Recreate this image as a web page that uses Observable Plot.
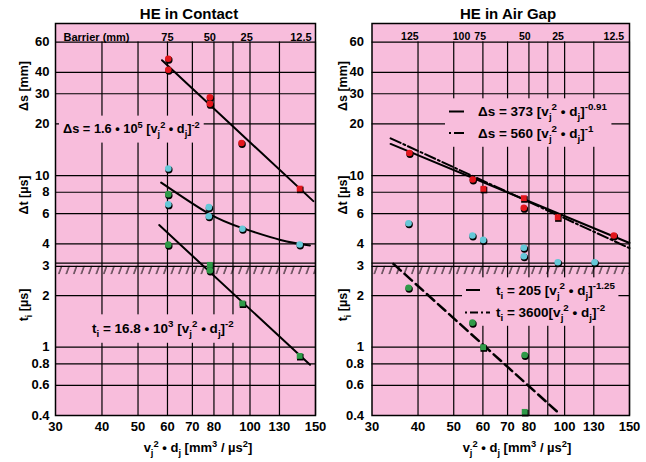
<!DOCTYPE html>
<html><head><meta charset="utf-8">
<script src="https://cdn.jsdelivr.net/npm/d3@7"></script>
<script src="https://cdn.jsdelivr.net/npm/@observablehq/plot@0.6"></script>
<style>
body{margin:0;background:#fff;}
#wrap{position:relative;width:646px;height:462px;overflow:hidden;background:#fff;}
#wrap svg{position:absolute;top:0;}
</style></head><body><div id="wrap"></div>
<script>
// ---------- shared axis data ----------
const xTicks = [30, 40, 50, 60, 70, 80, 100, 120, 150];
const xTickLabels = ["30", "40", "50", "60", "70", "80", "100", "130", "150"];
const xGrid = [40, 50, 60, 70, 80, 90, 100, 120, 150];
const yTicks = [0.4, 0.6, 0.8, 1, 2, 3, 4, 6, 8, 10, 20, 30, 40, 60];
const yTickLabels = ["0.4", "0.6", "0.8", "1", "2", "3", "4", "6", "8", "10", "20", "30", "40", "60"];
const yGrid = [0.6, 0.8, 1, 2, 4, 6, 8, 10, 20, 30, 40, 60];
const bandLines = [2.96, 3.09];
const bandHatch = [{lo: 2.65, hi: 2.96}];

// ---------- HE in Contact ----------
const contactBarrierX = [60, 78, 98, 137];
const contactBarrierLabels = ["75", "50", "25", "12.5"];
const contactDsX = [60.3, 60.3, 78, 78, 94.9, 136];
const contactDsY = [48, 41.4, 28.6, 26.2, 15.5, 8.4];
const contactDsShape = ["circle", "circle", "circle", "circle", "circle", "square"];
const contactDtX = [60.3, 60.3, 77.5, 77.5, 95.4, 136];
const contactDtY = [11, 6.8, 6.55, 5.8, 4.9, 3.97];
const contactTiX = [60.3, 60.3, 78, 78, 95.4, 136];
const contactTiY = [7.8, 3.96, 3.02, 2.8, 1.8, 0.89];
const contactTiShape = ["circle", "circle", "square", "circle", "square", "square"];
const contactDsFitX = [58, 148];
const contactDsFitY = [47, 7.1];
const contactDtCurveX = [57.7, 77.5, 95.4, 120.8, 144.9];
const contactDtCurveY = [9.1, 6.0, 4.94, 4.22, 3.92];
const contactTiFitX = [57, 145];
const contactTiFitY = [5.15, 0.79];

// ---------- HE in Air Gap ----------
const airBarrierX = [38, 52.5, 59, 78, 96, 136];
const airBarrierLabels = ["125", "100", "75", "50", "25", "12.5"];
const airDsX = [37.9, 56.3, 60.2, 77.5, 77.5, 95.8, 136];
const airDsY = [13.55, 9.49, 8.38, 7.39, 6.49, 5.72, 4.48];
const airDsShape = ["circle", "circle", "square", "square", "circle", "square", "circle"];
const airDtX = [37.7, 56.2, 60.1, 77.5, 77.5, 95.8, 120.6];
const airDtY = [5.28, 4.48, 4.22, 3.8, 3.39, 3.13, 3.13];
const airTiX = [37.7, 56.2, 60.1, 77.9, 77.9];
const airTiY = [2.22, 1.39, 1.0, 0.9, 0.42];
const airTiShape = ["circle", "circle", "square", "circle", "square"];
const airDsFit1X = [33.7, 150];
const airDsFit1Y = [15.3, 4.05];
const airDsFit2X = [33.7, 150];
const airDsFit2Y = [16.5, 3.78];
const airTiFitX = [34.3, 95.8];
const airTiFitY = [3.06, 0.418];

// ---------- styling ----------
const PINK = "#f8bddc";
const RED = "#e3161d", CYAN = "#66c8d8", GREEN = "#2f9a48";
const FONT = "'Liberation Sans', Arial, Helvetica, sans-serif";

const pairs = (xs, ys) => xs.map((x, i) => ({x, y: ys[i]}));
const pts = (xs, ys, sh) => xs.map((x, i) => ({x, y: ys[i], s: sh ? sh[i] : "circle"}));
function dots(data, color) {
  return [
    Plot.dot(data, {x: "x", y: "y", symbol: "s", r: 3.7, fill: "black", stroke: "none", dx: 0.6, dy: 1.3}),
    Plot.dot(data, {x: "x", y: "y", symbol: "s", r: 3.3, fill: color, stroke: "none"})
  ];
}
const P = s => [s, "sup"], J = s => [s, "sub"];

function rich(g, x, y, segs, size, opts = {}) {
  const t = g.append("text").attr("x", x).attr("y", y)
    .attr("font-size", size).attr("font-weight", "bold")
    .attr("font-family", FONT).attr("fill", "black")
    .attr("text-anchor", opts.anchor || "start");
  if (opts.rotate) t.attr("transform", `rotate(-90 ${x} ${y})`);
  let cur = 0;
  for (const seg of segs) {
    const [s, k] = Array.isArray(seg) ? seg : [seg, ""];
    const target = k === "sup" ? -0.42 * size : k === "sub" ? 0.28 * size : 0;
    t.append("tspan").attr("dy", target - cur).attr("font-size", k ? size * 0.72 : size).text(s);
    cur = target;
  }
  return t;
}
function boxBehind(g, node, px, py) {
  const b = node.getBBox();
  g.insert("rect", ":first-child").attr("x", b.x - px).attr("y", b.y - py)
    .attr("width", b.width + 2 * px).attr("height", b.height + 2 * py).attr("fill", PINK);
}
function sample(g, x1, x2, y, dash, w) {
  const l = g.append("line").attr("x1", x1).attr("x2", x2).attr("y1", y).attr("y2", y)
    .attr("stroke", "black").attr("stroke-width", w || 2);
  if (dash) l.attr("stroke-dasharray", dash);
}

const wrap = document.getElementById("wrap");

function panel(o) {
  const chart = Plot.plot({
    width: 323, height: 462,
    marginLeft: o.ml, marginRight: o.mr, marginTop: 23, marginBottom: 47,
    style: {fontFamily: FONT, fontSize: "13px", fontWeight: "bold", background: "transparent", color: "black", overflow: "visible"},
    x: {type: "log", domain: [30, 150], axis: null},
    y: {type: "log", domain: [0.4, 77], axis: null},
    marks: [
      Plot.frame({fill: PINK, stroke: "none"}),
      Plot.ruleY(yGrid, {stroke: "black", strokeWidth: 1.2}),
      Plot.ruleX(xGrid, {y1: 0.4, y2: 60, stroke: "black", strokeWidth: 1.2}),
      Plot.rect(bandHatch, {x1: 30, x2: 150, y1: "lo", y2: "hi", fill: "gray"}),
      Plot.ruleY(bandLines, {stroke: "black", strokeWidth: 1.2}),
      Plot.text(yTicks, {y: d => d, text: (d, i) => yTickLabels[i], frameAnchor: "left", textAnchor: "end", dx: -o.tp, fontSize: 13}),
      Plot.text(xTicks, {x: d => d, text: (d, i) => xTickLabels[i], frameAnchor: "bottom", lineAnchor: "top", dy: 6, fontSize: 13}),
      Plot.text(o.barrierX, {x: d => d, text: (d, i) => o.barrierLabels[i], frameAnchor: "top", dy: 9.5, fontSize: o.bfs}),
      ...(o.barrierTitle ? [Plot.text([o.barrierTitle], {text: d => d, frameAnchor: "top-left", dx: 8, dy: 9.5, textAnchor: "start", fontSize: 11})] : []),
      ...o.marks,
      Plot.frame({stroke: "black", strokeWidth: 1.5})
    ]
  });
  chart.style.left = o.left + "px";
  wrap.appendChild(chart);
  const svg = d3.select(chart);
  const defs = svg.insert("defs", ":first-child");
  const pat = defs.append("pattern").attr("id", o.id).attr("patternUnits", "userSpaceOnUse")
    .attr("width", 7.5).attr("height", 10).attr("patternTransform", "skewX(-20)");
  pat.append("line").attr("x1", 1).attr("x2", 1).attr("y1", 0).attr("y2", 10).attr("stroke", "black").attr("stroke-width", 1);
  svg.selectAll('g[aria-label="rect"] rect').attr("fill", `url(#${o.id})`);
  const firstLine = chart.querySelector('g[aria-label="line"]');
  const ann = svg.append("g");
  chart.insertBefore(ann.node(), firstLine);
  o.annotate(ann);
  const top = svg.append("g");
  rich(top, o.titleX, 19, [o.title], 15, {anchor: "middle"});
  rich(top, o.xlabX, 452, ["v", J("j"), P("2"), " • d", J("j"), " [mm", P("3"), " / µs", P("2"), "]"], 13, {anchor: "middle"});
  rich(top, o.ylabX, 86, ["Δs [mm]"], 12.5, {anchor: "middle", rotate: true});
  rich(top, o.ylabX, 195, ["Δt [µs]"], 12.5, {anchor: "middle", rotate: true});
  rich(top, o.ylabX, 305, ["t", J("i"), " [µs]"], 12.5, {anchor: "middle", rotate: true});
  return chart;
}

panel({
  id: "hatchL", left: 0, ml: 55, mr: 8, tp: 6, bfs: 11,
  title: "HE in Contact", titleX: 189, xlabX: 198, ylabX: 28,
  barrierX: contactBarrierX, barrierLabels: contactBarrierLabels, barrierTitle: "Barrier (mm)",
  marks: [
    Plot.line(pairs(contactDsFitX, contactDsFitY), {x: "x", y: "y", stroke: "black", strokeWidth: 2}),
    Plot.line(pairs(contactDtCurveX, contactDtCurveY), {x: "x", y: "y", curve: "natural", stroke: "black", strokeWidth: 2}),
    Plot.line(pairs(contactTiFitX, contactTiFitY), {x: "x", y: "y", stroke: "black", strokeWidth: 2}),
    ...dots(pts(contactDsX, contactDsY, contactDsShape), RED),
    ...dots(pts(contactDtX, contactDtY), CYAN),
    ...dots(pts(contactTiX, contactTiY, contactTiShape), GREEN)
  ],
  annotate(g) {
    const g1 = g.append("g");
    const t1 = rich(g1, 63, 133, ["Δs = 1.6 • 10", P("5"), " [v", J("j"), P("2"), " • d", J("j"), "]", P("-2")], 12.8);
    boxBehind(g1, t1.node(), 4, 4);
    const g2 = g.append("g");
    const t2 = rich(g2, 92, 333, ["t", J("i"), " = 16.8 • 10", P("3"), " [v", J("j"), P("2"), " • d", J("j"), "]", P("-2")], 13.5);
    boxBehind(g2, t2.node(), 5, 4);
  }
});

panel({
  id: "hatchR", left: 323, ml: 48.5, mr: 17, tp: 8, bfs: 10.5,
  title: "HE in Air Gap", titleX: 185, xlabX: 194, ylabX: 24,
  barrierX: airBarrierX, barrierLabels: airBarrierLabels, barrierTitle: null,
  marks: [
    Plot.line(pairs(airDsFit1X, airDsFit1Y), {x: "x", y: "y", stroke: "black", strokeWidth: 2}),
    Plot.line(pairs(airDsFit2X, airDsFit2Y), {x: "x", y: "y", stroke: "black", strokeWidth: 2, strokeDasharray: "11,3,2,3"}),
    Plot.line(pairs(airTiFitX, airTiFitY), {x: "x", y: "y", stroke: "black", strokeWidth: 2.5, strokeDasharray: "10,5"}),
    ...dots(pts(airDsX, airDsY, airDsShape), RED),
    ...dots(pts(airDtX, airDtY), CYAN),
    ...dots(pts(airTiX, airTiY, airTiShape), GREEN)
  ],
  annotate(g) {
    const g1 = g.append("g");
    sample(g1, 126, 141, 111.5);
    rich(g1, 155, 116, ["Δs = 373 [v", J("j"), P("2"), " • d", J("j"), "]", P("-0.91")], 13.5);
    sample(g1, 126, 141, 133, "2,3,10");
    rich(g1, 155, 138, ["Δs = 560 [v", J("j"), P("2"), " • d", J("j"), "]", P("-1")], 13.5);
    boxBehind(g1, g1.node(), 4, 3);
    const g2 = g.append("g");
    sample(g2, 143, 157, 290);
    rich(g2, 173, 295, ["t", J("i"), " = 205 [v", J("j"), P("2"), " • d", J("j"), "]", P("-1.25")], 13.5);
    sample(g2, 142, 167, 312.5, "2,3,8,3", 2.2);
    rich(g2, 173, 317, ["t", J("i"), " = 3600[v", J("j"), P("2"), " • d", J("j"), "]", P("-2")], 13.5);
    boxBehind(g2, g2.node(), 3, 3);
  }
});
</script></body></html>
